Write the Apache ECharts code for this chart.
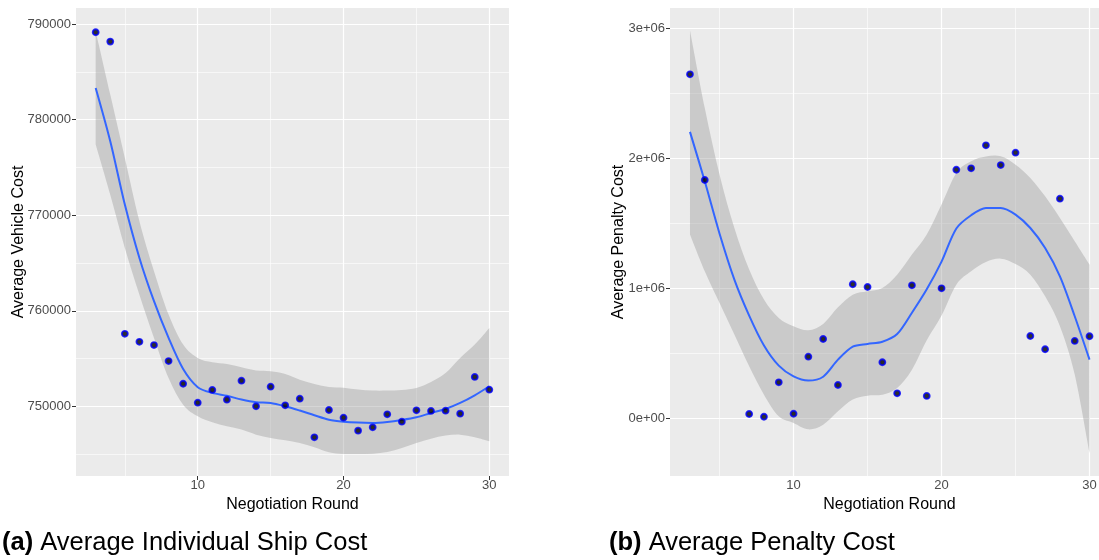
<!DOCTYPE html>
<html>
<head>
<meta charset="utf-8">
<script src="https://cdn.jsdelivr.net/npm/echarts@6/dist/echarts.min.js"></script>
<style>
  html, body { margin: 0; padding: 0; background: #ffffff; }
  #chart { width: 1099px; height: 560px; }
</style>
</head>
<body>
<div id="chart"></div>
<script>
// Negotiation rounds shared by both panels
const rounds = [3, 4, 5, 6, 7, 8, 9, 10, 11, 12, 13, 14, 15, 16, 17, 18, 19, 20, 21, 22, 23, 24, 25, 26, 27, 28, 29, 30];

// (a) average individual ship cost per round
const shipCost = [789160, 788180, 757590, 756750, 756410, 754730, 752360, 750380, 751710, 750690, 752680, 750000, 752050, 750100,
  750800, 746750, 749610, 748810, 747450, 747800, 749160, 748390, 749580, 749510, 749540, 749230, 753070, 751740];
// loess fit and its confidence band for (a)
const shipFit = [783330, 777750, 771120, 765530, 761000, 757160, 753900, 752000, 751400, 751100, 750700, 750420, 750350, 750000,
  749550, 749060, 748600, 748390, 748290, 748260, 748360, 748570, 748850, 749300, 749720, 750350, 751150, 752100];
const shipUpper = [789270, 782640, 776000, 769370, 764140, 759600, 756460, 755060, 754610, 754430, 754080, 753740, 753670, 753390,
  752790, 752340, 752030, 751950, 751750, 751640, 751640, 751710, 751920, 752550, 753490, 755060, 756460, 758200];
const shipLower = [777400, 772160, 766580, 761690, 757160, 752970, 750170, 748950, 748330, 747910, 747560, 747030, 746680, 746440,
  746160, 745710, 745180, 745010, 745010, 745040, 745220, 745640, 746160, 746610, 746930, 747030, 746750, 746330];

// (b) average penalty cost per round (no observations for rounds 5 and 6)
const penaltyRounds = [3, 4, 7, 8, 9, 10, 11, 12, 13, 14, 15, 16, 17, 18, 19, 20, 21, 22, 23, 24, 25, 26, 27, 28, 29, 30];
const penaltyCost = [2646000, 1833000, 33000, 12000, 277000, 35000, 474000, 610000, 256000, 1031000, 1010000, 431000, 192000,
  1023000, 172000, 1000000, 1912000, 1923000, 2100000, 1948000, 2043000, 633000, 531000, 1689000, 595000, 631000];
// loess fit and its confidence band for (b)
const penaltyFit = [2203000, 1823000, 1420000, 1067000, 790000, 560000, 405000, 322000, 290000, 320000, 451000, 551000, 572000,
  589000, 648000, 812000, 992000, 1205000, 1460000, 1562000, 1618000, 1618000, 1567000, 1464000, 1310000, 1092000, 785000, 451000];
const penaltyUpper = [2982000, 2387000, 1874000, 1464000, 1144000, 913000, 772000, 708000, 677000, 726000, 854000, 951000, 977000,
  1003000, 1105000, 1259000, 1413000, 1644000, 1887000, 1977000, 2013000, 2015000, 1951000, 1849000, 1708000, 1541000, 1362000, 1182000];
const penaltyLower = [1413000, 1131000, 887000, 644000, 400000, 182000, 15000, -36000, -85000, -49000, 54000, 144000, 174000,
  182000, 233000, 374000, 600000, 790000, 1028000, 1131000, 1203000, 1228000, 1187000, 1105000, 938000, 708000, 336000, -267000];

// axis breaks and labels
const roundTicks = [10, 20, 30];
const roundMinor = [5, 15, 25];
const shipTicks = [750000, 760000, 770000, 780000, 790000];
const shipMinor = [745000, 755000, 765000, 775000, 785000];
const penaltyTicks = [0, 1000000, 2000000, 3000000];
const penaltyTickLabels = ['0e+00', '1e+06', '2e+06', '3e+06'];
const penaltyMinor = [500000, 1500000, 2500000];

const FONT = '"Liberation Sans", Arial, Helvetica, sans-serif';
const PANEL_BG = '#EBEBEB';
const SMOOTH_BLUE = '#3366FF';

const pairs = (xs, ys) => xs.map((x, i) => [x, ys[i]]);

function gridLines(xMajor, xMinor, yMajor, yMinor) {
  const major = { color: '#FFFFFF', width: 1.2, type: 'solid' };
  const minor = { color: '#FFFFFF', width: 0.6, type: 'solid' };
  return [].concat(
    xMinor.map(v => ({ xAxis: v, lineStyle: minor })),
    yMinor.map(v => ({ yAxis: v, lineStyle: minor })),
    xMajor.map(v => ({ xAxis: v, lineStyle: major })),
    yMajor.map(v => ({ yAxis: v, lineStyle: major }))
  );
}

// Catmull-Rom spline through pixel points, as cubic Bezier path segments
function splineSegments(p) {
  let d = '';
  for (let i = 0; i < p.length - 1; i++) {
    const p0 = p[Math.max(i - 1, 0)], p1 = p[i], p2 = p[i + 1], p3 = p[Math.min(i + 2, p.length - 1)];
    const c1 = [p1[0] + (p2[0] - p0[0]) / 6, p1[1] + (p2[1] - p0[1]) / 6];
    const c2 = [p2[0] - (p3[0] - p1[0]) / 6, p2[1] - (p3[1] - p1[1]) / 6];
    d += ' C' + c1[0] + ' ' + c1[1] + ' ' + c2[0] + ' ' + c2[1] + ' ' + p2[0] + ' ' + p2[1];
  }
  return d;
}

// confidence band: smooth upper edge left to right, smooth lower edge back
function bandRenderer(xs, lower, upper) {
  return function (params, api) {
    if (params.dataIndex !== 0) return null;
    const top = xs.map((x, i) => api.coord([x, upper[i]]));
    const bottom = xs.map((x, i) => api.coord([x, lower[i]])).reverse();
    const d = 'M' + top[0][0] + ' ' + top[0][1] + splineSegments(top) +
      ' L' + bottom[0][0] + ' ' + bottom[0][1] + splineSegments(bottom) + ' Z';
    return {
      type: 'path',
      shape: { pathData: d, layout: 'center' },
      style: { fill: 'rgba(153,153,153,0.4)', stroke: 'none' }
    };
  };
}

function panelSeries(idx, xs, ys, fit, lower, upper, gl) {
  return [
    {
      // carrier for the panel grid lines
      type: 'line', xAxisIndex: idx, yAxisIndex: idx, data: pairs(rounds, fit), showSymbol: false, silent: true, z: 1,
      lineStyle: { opacity: 0 },
      markLine: { silent: true, symbol: ['none', 'none'], label: { show: false }, animation: false, z: 1, data: gl }
    },
    {
      type: 'custom', xAxisIndex: idx, yAxisIndex: idx, silent: true, z: 10, clip: true,
      data: rounds.map((r, i) => [r, lower[i], upper[i]]),
      encode: { x: 0, y: [1, 2] },
      renderItem: bandRenderer(rounds, lower, upper)
    },
    {
      type: 'line', xAxisIndex: idx, yAxisIndex: idx, data: pairs(rounds, fit), showSymbol: false, smooth: 0.3, z: 11,
      lineStyle: { color: SMOOTH_BLUE, width: 2 }
    },
    {
      type: 'scatter', xAxisIndex: idx, yAxisIndex: idx, data: pairs(xs, ys), z: 12,
      symbol: 'circle', symbolSize: 6,
      itemStyle: { color: '#000000', borderColor: '#0000FF', borderWidth: 1.8 }
    }
  ];
}

const tickStyle = { show: true, length: 4, lineStyle: { color: '#333333', width: 1 } };
const labelStyle = { color: '#4D4D4D', fontSize: 13, fontFamily: FONT };

function xAxis(idx) {
  return {
    type: 'value', gridIndex: idx, min: 1.65, max: 31.35,
    axisLine: { show: false }, splitLine: { show: false },
    axisTick: Object.assign({ customValues: roundTicks }, tickStyle),
    axisLabel: Object.assign({ customValues: roundTicks, margin: 3, formatter: v => String(v) }, labelStyle)
  };
}

const chart = echarts.init(document.getElementById('chart'), null, { renderer: 'canvas' });

const option = {
  animation: false,
  backgroundColor: '#FFFFFF',
  grid: [
    { left: 76, top: 8, width: 433, height: 468, show: true, backgroundColor: PANEL_BG, borderWidth: 0, containLabel: false, outerBoundsMode: 'none' },
    { left: 670, top: 8, width: 439.5, height: 468, show: true, backgroundColor: PANEL_BG, borderWidth: 0, containLabel: false, outerBoundsMode: 'none' }
  ],
  xAxis: [xAxis(0), xAxis(1)],
  yAxis: [
    {
      type: 'value', gridIndex: 0, min: 742700, max: 791700,
      axisLine: { show: false }, splitLine: { show: false },
      axisTick: Object.assign({ customValues: shipTicks }, tickStyle),
      axisLabel: Object.assign({ customValues: shipTicks, margin: 5, formatter: v => String(v) }, labelStyle)
    },
    {
      type: 'value', gridIndex: 1, min: -443800, max: 3156000,
      axisLine: { show: false }, splitLine: { show: false },
      axisTick: Object.assign({ customValues: penaltyTicks }, tickStyle),
      axisLabel: Object.assign({
        customValues: penaltyTicks, margin: 5,
        formatter: v => penaltyTickLabels[penaltyTicks.indexOf(v)]
      }, labelStyle)
    }
  ],
  series: [].concat(
    panelSeries(0, rounds, shipCost, shipFit, shipLower, shipUpper, gridLines(roundTicks, roundMinor, shipTicks, shipMinor)),
    panelSeries(1, penaltyRounds, penaltyCost, penaltyFit, penaltyLower, penaltyUpper, gridLines(roundTicks, roundMinor, penaltyTicks, penaltyMinor))
  ),
  graphic: [
    { type: 'text', x: 292.5, y: 505, style: { text: 'Negotiation Round', fill: '#000000', font: '16px ' + FONT, align: 'center', verticalAlign: 'middle' } },
    { type: 'text', x: 889.5, y: 505, style: { text: 'Negotiation Round', fill: '#000000', font: '16px ' + FONT, align: 'center', verticalAlign: 'middle' } },
    { type: 'text', x: 18.5, y: 242, rotation: Math.PI / 2, style: { text: 'Average Vehicle Cost', fill: '#000000', font: '16px ' + FONT, align: 'center', verticalAlign: 'middle' } },
    { type: 'text', x: 618.5, y: 242, rotation: Math.PI / 2, style: { text: 'Average Penalty Cost', fill: '#000000', font: '16px ' + FONT, align: 'center', verticalAlign: 'middle' } },
    {
      type: 'text', x: 2, y: 543,
      style: {
        text: '{b|(a)} Average Individual Ship Cost', fill: '#000000', font: '25.5px ' + FONT, verticalAlign: 'middle',
        rich: { b: { fontWeight: 'bold', fontSize: 25.5, fontFamily: FONT, fill: '#000000' } }
      }
    },
    {
      type: 'text', x: 609, y: 543,
      style: {
        text: '{b|(b)} Average Penalty Cost', fill: '#000000', font: '25.5px ' + FONT, verticalAlign: 'middle',
        rich: { b: { fontWeight: 'bold', fontSize: 25.5, fontFamily: FONT, fill: '#000000' } }
      }
    }
  ]
};

chart.setOption(option);
</script>
</body>
</html>
